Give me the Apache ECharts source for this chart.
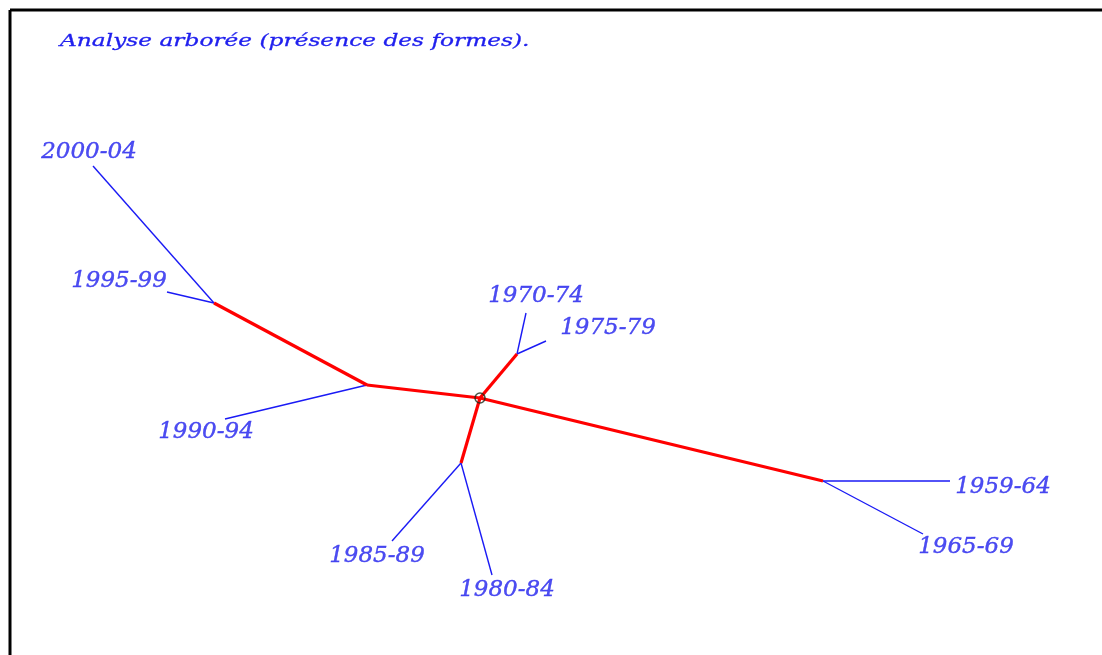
<!DOCTYPE html>
<html>
<head>
<meta charset="utf-8">
<script src="https://cdn.jsdelivr.net/npm/echarts@6/dist/echarts.min.js"></script>
<style>
  html, body { margin: 0; padding: 0; background: #fff; }
  #chart { width: 1102px; height: 655px; }
</style>
</head>
<body>
<div id="chart"></div>
<script>
// inner nodes of the tree (plane coordinates)
const innerNodes = [[480, 398], [367, 385], [214, 303], [517, 354], [461, 463], [823, 481]];
// edges between inner nodes (drawn red)
const innerEdges = [[0, 1], [1, 2], [0, 3], [0, 4], [0, 5]];

// leaves
const leafNames = ['2000-04', '1995-99', '1990-94', '1970-74', '1975-79', '1985-89', '1980-84', '1959-64', '1965-69'];
const leafParent = [2, 2, 1, 3, 3, 4, 4, 5, 5];
const leafEnd = [[93, 166], [167, 292], [225, 419], [526, 313], [546, 341], [392, 541], [492, 575], [950, 481], [923, 534]];
const labelAt = [[89, 152], [119, 281], [206, 432], [536, 296], [608, 328], [377, 556], [507, 590], [1003, 487], [966, 547]];

const chart = echarts.init(document.getElementById('chart'));

const redLines = innerEdges.map(e => [innerNodes[e[0]], innerNodes[e[1]]]);
const blueLines = leafEnd.map((p, i) => [innerNodes[leafParent[i]], p]);

const series = [];
blueLines.forEach(l => series.push({
    type: 'line', data: l, symbol: 'none', silent: true,
    lineStyle: { color: '#1a1af5', width: 1.4 }
}));
redLines.forEach(l => series.push({
    type: 'line', data: l, symbol: 'none', silent: true,
    lineStyle: { color: '#ff0000', width: 3.2 }
}));
// root marker
series.push({
    type: 'scatter', data: [innerNodes[0]], symbol: 'circle', symbolSize: 10, silent: true,
    itemStyle: { color: 'rgba(0,0,0,0)', borderColor: '#1a2a1a', borderWidth: 1.5 }, z: 5
});
// leaf labels
series.push({
    type: 'scatter', symbolSize: 0, silent: true,
    data: labelAt.map((p, i) => ({ value: p, name: leafNames[i] })),
    label: {
        show: true, position: 'inside', formatter: '{b}',
        fontFamily: 'DejaVu Serif', fontStyle: 'italic', fontSize: 23,
        color: '#2020ee', textBorderColor: '#2020ee', textBorderWidth: 0.4
    }
});

const option = {
    animation: false,
    backgroundColor: '#ffffff',
    grid: { left: 0, right: 0, top: 0, bottom: 0 },
    xAxis: { type: 'value', min: 0, max: 1102, show: false },
    yAxis: { type: 'value', min: 0, max: 655, inverse: true, show: false },
    graphic: [
        { type: 'line', shape: { x1: 10, y1: 10, x2: 1102, y2: 10 }, style: { stroke: '#000', lineWidth: 3 } },
        { type: 'line', shape: { x1: 10, y1: 10, x2: 10, y2: 655 }, style: { stroke: '#000', lineWidth: 3 } },
        {
            type: 'text', x: 60, y: 33, scaleX: 1.37,
            style: {
                text: 'Analyse arborée (présence des formes).',
                font: 'italic 17px "DejaVu Serif"', fill: '#2020ee',
                stroke: '#2020ee', lineWidth: 0.3
            }
        }
    ],
    series
};

chart.setOption(option);
</script>
</body>
</html>
